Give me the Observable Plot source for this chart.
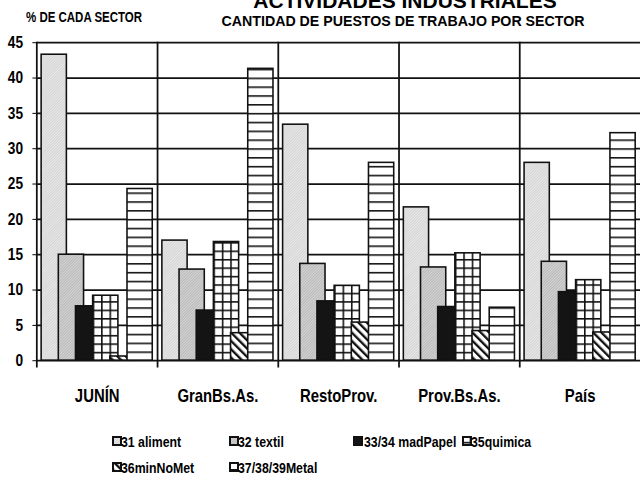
<!DOCTYPE html>
<html><head><meta charset="utf-8">
<script src="https://cdn.jsdelivr.net/npm/d3@7"></script>
<script src="https://cdn.jsdelivr.net/npm/@observablehq/plot@0.6"></script>
<style>
html,body{margin:0;padding:0;background:#fff;overflow:hidden;width:640px;height:482px;}
#wrap{position:relative;width:640px;height:482px;overflow:hidden;background:#fff;}
#wrap svg.chart{position:absolute;left:0;top:0;}
.t{position:absolute;white-space:nowrap;color:#000;line-height:1;font-weight:bold;font-family:"Liberation Sans",Arial,Helvetica,sans-serif;}
.leg{position:absolute;white-space:nowrap;line-height:1;font-weight:bold;font-size:15px;font-family:"Liberation Sans",Arial,Helvetica,sans-serif;}
.leg svg{position:absolute;left:0;top:2px;}
.leg span{position:absolute;top:0;transform-origin:0 0;transform:scaleX(0.82);}
</style></head>
<body><div id="wrap"></div>
<script>
// ---- data ----
const groups = ["JUNÍN", "GranBs.As.", "RestoProv.", "Prov.Bs.As.", "País"];
const series = ["31 aliment", "32 textil", "33/34 madPapel", "35quimica", "36minNoMet", "37/38/39Metal"];
const aliment  = [43.3, 17.0, 33.4, 21.7, 28.0];
const textil   = [15.0, 12.9, 13.7, 13.2, 14.0];
const madPapel = [7.7, 7.1, 8.4, 7.6, 9.7];
const quimica  = [9.2, 16.8, 10.6, 15.2, 11.4];
const minNoMet = [0.6, 3.9, 5.4, 4.2, 4.0];
const metal    = [24.3, 41.3, 28.0, 7.5, 32.2];
const yTicks = [0, 5, 10, 15, 20, 25, 30, 35, 40, 45];
const gridTicks = [5, 10, 15, 20, 25, 30, 35, 40, 45];

const values = [aliment, textil, madPapel, quimica, minNoMet, metal];
const rows = [];
groups.forEach((g, gi) => series.forEach((s, si) => rows.push({group: g, series: s, value: values[si][gi]})));

const fills = ["url(#pA)", "url(#pT)", "#141414", "url(#pQ)", "url(#pM)", "url(#pX)"];
const FONT = '"Liberation Sans",Arial,Helvetica,sans-serif';
const SQUEEZE = 0.82;

const chart = Plot.plot({
  width: 652, height: 430,
  marginLeft: 36, marginRight: 0, marginTop: 43, marginBottom: 63,
  style: {fontFamily: FONT, fontSize: "17px", fontWeight: "bold", color: "#000", background: "transparent"},
  fx: {domain: groups, padding: 0, label: null, axis: "bottom", tickSize: 0, tickPadding: 29},
  x: {domain: series, axis: null, paddingInner: -0.47, paddingOuter: 0.28, round: false},
  y: {domain: [0, 45], ticks: yTicks, tickSize: 4, tickPadding: 10, label: null},
  color: {domain: series, range: fills},
  marks: [
    Plot.ruleY(gridTicks, {stroke: "#111", strokeWidth: 1.8}),
    Plot.frame({anchor: "left", stroke: "#111", strokeWidth: 1.8, insetBottom: -6}),
    Plot.barY(rows, {fx: "group", x: "series", y: "value", fill: "series", stroke: "#111", strokeWidth: 1.6}),
    Plot.ruleY([0], {stroke: "#111", strokeWidth: 1.8})
  ]
});
chart.classList.add("chart");
document.getElementById("wrap").appendChild(chart);

const svg = d3.select(chart);
// condensed look: squeeze every axis text horizontally around its own anchor
svg.selectAll("text").each(function () {
  const t = this.getAttribute("transform") || "";
  const xa = this.getAttribute("x");
  let pre = "";
  if (xa !== null && /^-?[\d.]+$/.test(xa.trim())) {
    pre = ` translate(${+xa},0)`;
    this.removeAttribute("x");
  }
  this.setAttribute("transform", `${t}${pre} scale(${SQUEEZE},1)`);
});
// bigger category labels
svg.selectAll("g[aria-label='fx-axis tick label'] text, g[aria-label='fx-axis'] text").attr("font-size", 18.5);

// ---- patterns ----
const defs = svg.insert("defs", ":first-child");
const y0 = 367;
let qx = null, qw = 25.7;
svg.selectAll("rect").each(function () {
  if (this.getAttribute("fill") === "url(#pQ)" && qx === null) { qx = +this.getAttribute("x"); qw = +this.getAttribute("width"); }
});
if (qx === null || isNaN(qx)) qx = 0;
function fine(id, bg, fg) {
  const p = defs.append("pattern").attr("id", id).attr("patternUnits", "userSpaceOnUse")
    .attr("width", 2).attr("height", 2).attr("patternTransform", "rotate(45)");
  p.append("rect").attr("width", 2).attr("height", 2).attr("fill", bg);
  p.append("rect").attr("width", 0.8).attr("height", 2).attr("fill", fg);
}
fine("pA", "#e8e8e8", "#cfcfcf");
fine("pT", "#d4d4d4", "#b2b2b2");
{
  const w = qw / 3, h = 8.6;
  const p = defs.append("pattern").attr("id", "pQ").attr("patternUnits", "userSpaceOnUse")
    .attr("x", qx).attr("y", y0).attr("width", w).attr("height", h);
  p.append("rect").attr("width", w).attr("height", h).attr("fill", "#fff");
  p.append("rect").attr("width", 1.6).attr("height", h).attr("fill", "#111");
  p.append("rect").attr("width", w).attr("height", 1.6).attr("fill", "#111");
}
{
  const p = defs.append("pattern").attr("id", "pM").attr("patternUnits", "userSpaceOnUse")
    .attr("width", 6).attr("height", 6).attr("patternTransform", "rotate(-45)");
  p.append("rect").attr("width", 6).attr("height", 6).attr("fill", "#fff");
  p.append("rect").attr("width", 2.4).attr("height", 6).attr("fill", "#111");
}
{
  const p = defs.append("pattern").attr("id", "pX").attr("patternUnits", "userSpaceOnUse")
    .attr("x", 0).attr("y", y0).attr("width", 10).attr("height", 9);
  p.append("rect").attr("width", 10).attr("height", 9).attr("fill", "#fff");
  p.append("rect").attr("width", 10).attr("height", 1.6).attr("fill", "#111");
}

// ---- titles ----
const wrap = document.getElementById("wrap");
function addText(txt, left, top, size, center, narrow) {
  const d = document.createElement("div");
  d.className = "t";
  d.textContent = txt;
  d.style.fontSize = size + "px";
  d.style.top = top + "px";
  d.style.left = left + "px";
  if (center) d.style.transform = "translateX(-50%)";
  if (narrow) { d.style.transformOrigin = "0 0"; d.style.transform = `scaleX(${SQUEEZE})`; }
  wrap.appendChild(d);
}
addText("ACTIVIDADES INDUSTRIALES", 405, -10, 21, true, false);
addText("CANTIDAD DE PUESTOS DE TRABAJO POR SECTOR", 403, 13.5, 14.2, true, false);
addText("% DE CADA SECTOR", 26, 10, 14, false, true);

// ---- legend ----
const legendPos = [[112, 434], [229, 434], [353, 434], [462, 434], [112, 460], [229, 460]];
series.forEach((s, i) => {
  const [lx, ly] = legendPos[i];
  const d = document.createElement("div");
  d.className = "leg";
  d.style.left = lx + "px"; d.style.top = ly + "px";
  d.innerHTML = `<svg width="10" height="10"><rect x="1" y="1" width="8" height="8" fill="${fills[i]}" stroke="#111" stroke-width="2"/></svg><span style="left:${i === 2 ? 11 : 9}px">${s}</span>`;
  wrap.appendChild(d);
});
</script>
</body></html>
